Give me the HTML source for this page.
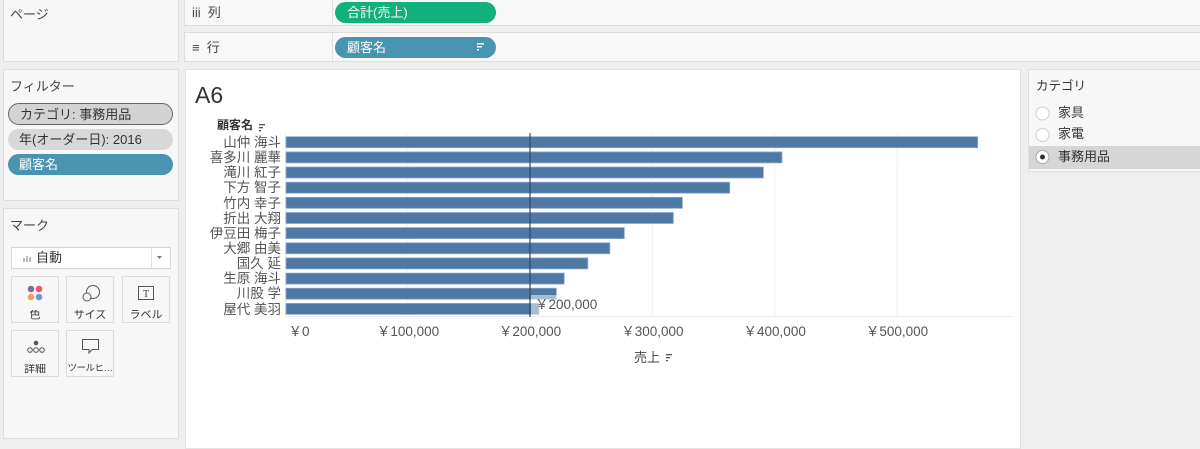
<!DOCTYPE html>
<html><head><meta charset="utf-8">
<style>
*{margin:0;padding:0;box-sizing:border-box}
body{width:1200px;height:443px;overflow:hidden;background:#efefef;font-family:"Liberation Sans","Noto Sans CJK JP",sans-serif;color:#333;position:relative}
.abs{position:absolute}
.panel{position:absolute;background:#f7f7f7;border:1px solid #dedede}
.t{position:absolute;font-size:13px;white-space:nowrap;line-height:1}
.pill{position:absolute;border-radius:11px;color:#fff;font-size:13px;line-height:1;white-space:nowrap}
.btn{position:absolute;width:48px;height:47px;background:#f7f7f7;border:1px solid #dcdcdc}
.btn span{position:absolute;left:0;right:0;text-align:center;top:33px;font-size:11px;line-height:1;color:#333;white-space:nowrap;overflow:hidden}
</style></head><body>

<!-- Page panel -->
<div class="panel" style="left:3px;top:-1px;width:176px;height:63px"></div>
<div class="t" style="left:10px;top:8px;color:#444">ページ</div>

<!-- Columns shelf -->
<div class="panel" style="left:184px;top:-1px;width:1020px;height:27px;background:#f8f8f8"></div>
<div class="abs" style="left:332px;top:0;width:1px;height:26px;background:#e0e0e0"></div>
<div class="t" style="left:192px;top:6px;color:#444;font-size:13px">iii&nbsp;&nbsp;列</div>
<div class="pill" style="left:335px;top:2px;width:161px;height:21px;background:#12b07d;padding:4px 0 0 12px">合計(売上)</div>

<!-- Rows shelf -->
<div class="panel" style="left:184px;top:32px;width:1020px;height:30px;background:#f8f8f8"></div>
<div class="abs" style="left:332px;top:33px;width:1px;height:28px;background:#e0e0e0"></div>
<div class="t" style="left:192px;top:41px;color:#444">≡&nbsp;&nbsp;行</div>
<div class="pill" style="left:335px;top:37px;width:161px;height:21px;background:#4994b0;padding:4px 0 0 12px">顧客名</div>
<svg class="abs" style="left:476px;top:42px" width="10" height="10"><rect x="1" y="1" width="7" height="1.5" fill="#fff"/><rect x="1" y="4" width="5" height="1.5" fill="#fff"/><rect x="1" y="7" width="2" height="1.5" fill="#fff"/></svg>

<!-- Filter panel -->
<div class="panel" style="left:3px;top:69px;width:176px;height:132px"></div>
<div class="t" style="left:10px;top:80px;color:#444">フィルター</div>
<div class="pill" style="left:8px;top:103px;width:165px;height:22px;background:#d3d3d3;border:1px solid #666;color:#333;padding:4px 0 0 11px">カテゴリ: 事務用品</div>
<div class="pill" style="left:8px;top:129px;width:165px;height:21px;background:#d8d8d8;color:#333;padding:4px 0 0 11px">年(オーダー日): 2016</div>
<div class="pill" style="left:8px;top:154px;width:165px;height:21px;background:#4994b0;padding:4px 0 0 11px">顧客名</div>

<!-- Marks panel -->
<div class="panel" style="left:3px;top:208px;width:176px;height:231px"></div>
<div class="t" style="left:10px;top:219px;color:#444">マーク</div>
<div class="abs" style="left:11px;top:247px;width:160px;height:22px;background:#fff;border:1px solid #d6d6d6"></div>
<div class="abs" style="left:151px;top:248px;width:1px;height:20px;background:#e0e0e0"></div>
<svg class="abs" style="left:22px;top:253px" width="10" height="10"><rect x="1" y="5" width="2" height="4" fill="#bbb"/><rect x="4" y="3" width="2" height="6" fill="#bbb"/><rect x="7" y="4" width="2" height="5" fill="#bbb"/></svg>
<div class="t" style="left:36px;top:251px;color:#333">自動</div>
<svg class="abs" style="left:156px;top:255px" width="8" height="6"><path d="M1 1 L6 1 L3.5 4 Z" fill="#777"/></svg>

<div class="btn" style="left:11px;top:276px"><span>色</span>
<svg class="abs" style="left:13px;top:7px" width="20" height="20"><circle cx="6" cy="5" r="3.3" fill="#8a6aa0"/><circle cx="14" cy="5" r="3.3" fill="#e8566d"/><circle cx="6" cy="13" r="3.3" fill="#f2a060"/><circle cx="14" cy="13" r="3.3" fill="#6f9cd0"/></svg></div>
<div class="btn" style="left:66px;top:276px"><span>サイズ</span>
<svg class="abs" style="left:13px;top:6px" width="22" height="22"><circle cx="13" cy="9" r="6.5" fill="none" stroke="#555" stroke-width="1"/><circle cx="7" cy="14" r="4" fill="#f7f7f7" stroke="#555" stroke-width="1"/></svg></div>
<div class="btn" style="left:122px;top:276px"><span>ラベル</span>
<svg class="abs" style="left:14px;top:8px" width="20" height="18"><rect x="1.5" y="1.5" width="15" height="13" fill="none" stroke="#555" stroke-width="1"/><text x="9" y="12" text-anchor="middle" font-size="10" font-family="Liberation Serif,serif" fill="#444">T</text></svg></div>
<div class="btn" style="left:11px;top:330px"><span>詳細</span>
<svg class="abs" style="left:12px;top:9px" width="24" height="16"><circle cx="12" cy="3" r="2.3" fill="#555"/><circle cx="6" cy="10" r="2.3" fill="none" stroke="#555"/><circle cx="12" cy="10" r="2.3" fill="none" stroke="#555"/><circle cx="18" cy="10" r="2.3" fill="none" stroke="#555"/></svg></div>
<div class="btn" style="left:66px;top:330px"><span style="font-size:9.5px;letter-spacing:-0.5px">ツールヒ…</span>
<svg class="abs" style="left:14px;top:7px" width="22" height="18"><path d="M1.5 1.5 H17.5 V11.5 H11 L8 15 L8 11.5 H1.5 Z" fill="none" stroke="#555" stroke-width="1"/></svg></div>

<!-- Chart area -->
<div class="abs" style="left:185px;top:69px;width:836px;height:380px;background:#fff;border:1px solid #e3e3e3"></div>
<svg class="abs" style="left:0;top:0" width="1200" height="443" font-family="Liberation Sans, Noto Sans CJK JP, sans-serif">
  <text x="195" y="103" font-size="23" fill="#333">A6</text>
  <text x="217" y="129" font-size="12" fill="#333" font-weight="bold">顧客名</text>
  <g fill="#555"><rect x="259" y="124" width="6" height="1.3"/><rect x="259" y="127" width="4" height="1.3"/><rect x="259" y="130" width="2" height="1.3"/></g>
  <!-- gridlines -->
  <g stroke="#f0f0f0" stroke-width="1">
    <line x1="285.5" y1="133" x2="285.5" y2="317"/>
    <line x1="407.8" y1="133" x2="407.8" y2="317"/>
    <line x1="652.4" y1="133" x2="652.4" y2="317"/>
    <line x1="774.7" y1="133" x2="774.7" y2="317"/>
    <line x1="897" y1="133" x2="897" y2="317"/>
  </g>
  <line x1="285" y1="316.5" x2="1012" y2="316.5" stroke="#ededed" stroke-width="1"/>
  <!-- bars -->
  <g fill="#4e79a7" stroke="#8fa9c6" stroke-width="0.8">
    <rect x="286" y="136.7" width="691.7" height="11"/>
    <rect x="286" y="151.9" width="496" height="11"/>
    <rect x="286" y="167.0" width="477.4" height="11"/>
    <rect x="286" y="182.2" width="443.7" height="11"/>
    <rect x="286" y="197.3" width="396.4" height="11"/>
    <rect x="286" y="212.5" width="387.3" height="11"/>
    <rect x="286" y="227.6" width="338.3" height="11"/>
    <rect x="286" y="242.8" width="323.8" height="11"/>
    <rect x="286" y="257.9" width="301.8" height="11"/>
    <rect x="286" y="273.1" width="278.2" height="11"/>
    <rect x="286" y="288.2" width="270.4" height="11"/>
    <rect x="286" y="303.4" width="252.9" height="11"/>
  </g>
  <!-- label box -->
  <rect x="531" y="295" width="72" height="20" fill="#fff" fill-opacity="0.5"/>
  <!-- reference line -->
  <line x1="530" y1="133" x2="530" y2="317" stroke="#34465c" stroke-width="1.2"/>
  <text x="535" y="309" font-size="13.5" fill="#555">￥200,000</text>
  <!-- row labels -->
  <g font-size="13.5" fill="#555" text-anchor="end">
    <text x="281" y="147">山仲 海斗</text>
    <text x="281" y="162">喜多川 麗華</text>
    <text x="281" y="177">滝川 紅子</text>
    <text x="281" y="192">下方 智子</text>
    <text x="281" y="208">竹内 幸子</text>
    <text x="281" y="223">折出 大翔</text>
    <text x="281" y="238">伊豆田 梅子</text>
    <text x="281" y="253">大郷 由美</text>
    <text x="281" y="268">国久 延</text>
    <text x="281" y="283">生原 海斗</text>
    <text x="281" y="298">川股 学</text>
    <text x="281" y="314">屋代 美羽</text>
  </g>
  <!-- axis tick labels -->
  <g font-size="13.5" fill="#555" text-anchor="middle">
    <text x="299" y="336">￥0</text>
    <text x="408" y="336">￥100,000</text>
    <text x="530" y="336">￥200,000</text>
    <text x="652.4" y="336">￥300,000</text>
    <text x="774.7" y="336">￥400,000</text>
    <text x="897" y="336">￥500,000</text>
  </g>
  <text x="634" y="362" font-size="13" fill="#444">売上</text>
  <g fill="#555"><rect x="666" y="354" width="6" height="1.3"/><rect x="666" y="357" width="4" height="1.3"/><rect x="666" y="360" width="2" height="1.3"/></g>
</svg>

<!-- Category panel -->
<div class="abs" style="left:1028px;top:69px;width:175px;height:103px;background:#f7f7f7;border:1px solid #e0e0e0"></div>
<div class="abs" style="left:1029px;top:101px;width:174px;height:69px;background:#f7f7f7"></div>
<div class="t" style="left:1036px;top:80px;color:#333;font-size:12.5px">カテゴリ</div>
<div class="abs" style="left:1029px;top:146px;width:174px;height:23px;background:#d6d6d6"></div>
<svg class="abs" style="left:1029px;top:100px" width="171" height="70">
  <circle cx="13.5" cy="13.5" r="6.5" fill="#fff" stroke="#d0d0d0"/>
  <circle cx="13.5" cy="35" r="6.5" fill="#fff" stroke="#d0d0d0"/>
  <circle cx="13.5" cy="57" r="6.5" fill="#fff" stroke="#aaa"/>
  <circle cx="13.5" cy="57" r="2.5" fill="#333"/>
</svg>
<div class="t" style="left:1058px;top:106px;color:#333">家具</div>
<div class="t" style="left:1058px;top:127px;color:#333">家電</div>
<div class="t" style="left:1058px;top:150px;color:#333">事務用品</div>

</body></html>
